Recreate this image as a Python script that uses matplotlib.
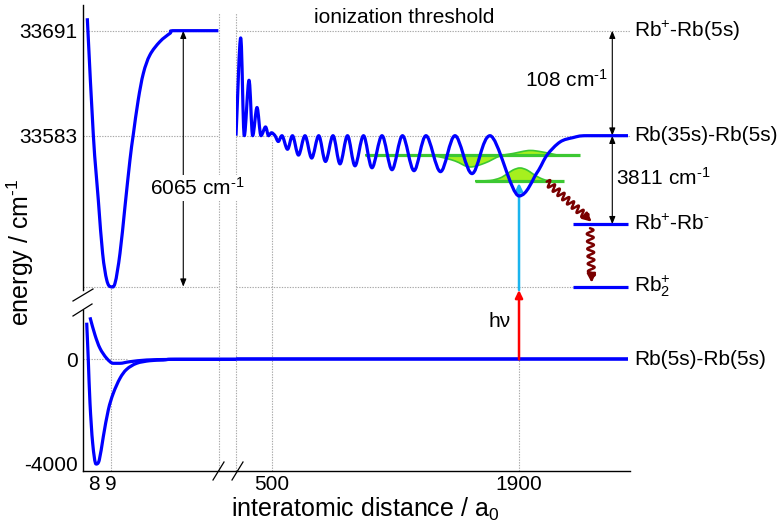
import numpy as np
import matplotlib
matplotlib.use("Agg")
import matplotlib.pyplot as plt
from matplotlib.path import Path
from matplotlib.patches import PathPatch, ConnectionPatch
from matplotlib.lines import Line2D
from matplotlib import transforms

plt.rcParams['font.family'] = ['Liberation Sans', 'DejaVu Sans']
plt.rcParams['mathtext.fontset'] = 'custom'
plt.rcParams['mathtext.rm'] = 'Liberation Sans'
plt.rcParams['mathtext.it'] = 'Liberation Sans:italic'
plt.rcParams['mathtext.bf'] = 'Liberation Sans:bold'

# ---------------- data ----------------
left_r_ticks = [8, 9]
right_r_ticks = [500, 1900]
top_E_ticks = [33583, 33691]
bottom_E_ticks = [-4000, 0]

E_ion = 33691.0        # Rb+ - Rb(5s)
E_ryd = 33583.0        # Rb(35s) - Rb(5s)
E_ionpair = 33491.9    # Rb+ - Rb-  (schematic position)
E_molion = 33427.7     # Rb2+       (schematic position)
E_ground = 0.0

# Rb2+ potential (upper left, schematic)
ion_r = [7.64, 7.99, 8.28, 8.53, 8.77, 9.00, 9.25, 9.54, 9.83, 10.12, 10.31,
         10.60, 10.90, 11.28, 11.86, 12.45, 12.74, 15.26]
ion_E = [33703.8, 33583.7, 33516.9, 33462.0, 33434.6, 33427.7, 33431.2, 33462.0,
         33510.0, 33558.0, 33583.7, 33619.7, 33647.2, 33666.0, 33679.7, 33688.3,
         33691.0, 33691.0]

# ground-state potentials (lower left)
sing_r = [7.605, 7.698, 7.797, 7.953, 8.145, 8.337, 8.570, 8.860, 9.151, 9.541,
          9.930, 10.51, 11.28, 12.06, 12.74, 16.285]
sing_E = [1408, -27, -1692, -3231, -4027, -3873, -2977, -1950, -1308, -731,
          -385, -154, -54, -27, 0, 0]
trip_r = [7.797, 8.087, 8.378, 8.767, 9.151, 9.541, 10.12, 11.09, 12.26, 13.03, 16.285]
trip_E = [1615, 935, 423, 38, -154, -154, -92, -27, -8, 0, 0]
ground_r = [297.9, 2517.0]

# Rydberg macrodimer potential (upper right)
ryd_r = [297.9, 324.5, 344.9, 371.5, 392.4, 416.8, 439.4, 464.9, 481.9, 498.9,
         518.7, 537.4, 558.3, 589.4, 617.7, 651.7, 688.5, 726.4, 766.1, 804.6,
         847.0, 886.7, 929.1, 971.6, 1019.7, 1067.8, 1124.4, 1181.0, 1240.5, 1305.6,
         1373.5, 1455.6, 1537.7, 1633.9, 1735.8, 1900.0, 2001.9, 2058.5, 2132.1,
         2205.7, 2284.9, 2517.0]
ryd_E = [33583, 33683.5, 33583, 33640, 33583, 33612, 33583, 33592, 33583, 33586,
         33583, 33577, 33583, 33569, 33583, 33563, 33583, 33560, 33583, 33556.5,
         33583, 33554, 33583, 33552, 33583, 33550, 33583, 33548, 33583, 33547,
         33583, 33546, 33583, 33544, 33583, 33521, 33545, 33563, 33576.5,
         33581, 33583, 33583]

# vibrational levels and wavefunctions
lev_hi_E = 33563.1
lev_hi_r = [1028.2, 2245.3]
wf_hi_r = [1028.2, 1226.3, 1379.2, 1452.8, 1537.7, 1622.6, 1707.5, 1792.4,
           1866.0, 1962.2, 2018.9, 2075.5, 2132.1, 2245.3]
wf_hi_E = [33563.1, 33563.1, 33562.6, 33561.1, 33557.0, 33550.8, 33554.9, 33562.1,
           33564.7, 33567.8, 33566.7, 33564.7, 33563.1, 33563.1]
lev_lo_E = 33536.4
lev_lo_r = [1651.0, 2154.7]
wf_lo_r = [1651.0, 1735.9, 1792.4, 1832.0, 1866.0, 1905.6, 1945.2, 1979.2,
           2018.9, 2064.2, 2154.7]
wf_lo_E = [33536.4, 33536.9, 33539.5, 33543.6, 33547.7, 33549.8, 33547.7,
           33543.6, 33539.5, 33536.9, 33536.4]

ion_levels_r = [2205.7, 2517.0]
r_exc = 1900.0
E_exc_top = 33534.3
arrow_6065_r = 13.22
arrow_108_r = 2428.1
decay1 = [(2056.8, 33535.7), (2311.5, 33494.5)]
decay2 = [(2301.9, 33487.8), (2311.5, 33431.8)]

INV_CM = r'cm$^{\text{-1}}$'

# ---------------- layout ----------------
W, H = 784, 525
def fx(px): return px / W
def fy(py): return 1 - py / H

fig = plt.figure(figsize=(W / 100, H / 100), dpi=100)
bl = fig.add_axes([fx(83), fy(471), fx(236) - fx(83), fy(310) - fy(471)])
br = fig.add_axes([fx(236), fy(471), fx(630) - fx(236), fy(310) - fy(471)])
tl = fig.add_axes([fx(83), fy(290), fx(219) - fx(83), fy(5) - fy(290)])
tr = fig.add_axes([fx(236), fy(290), fx(630) - fx(236), fy(5) - fy(290)])

BLUE = '#0000ff'
GRID = '#a8a8a8'
FS = 15

for ax in (bl, br, tl, tr):
    ax.set_facecolor('none')
    for s in ax.spines.values():
        s.set_visible(False)
    ax.tick_params(length=0, labelsize=FS, pad=4)
    ax.set_xticks([]); ax.set_yticks([])

for ax in (tl, bl):
    ax.spines['left'].set_visible(True)
    ax.spines['left'].set_linewidth(1.0)
for ax in (bl, br):
    ax.spines['bottom'].set_visible(True)
    ax.spines['bottom'].set_linewidth(1.0)

tl.set_yticks(top_E_ticks)
tl.set_yticklabels([str(v) for v in top_E_ticks])
bl.set_yticks(bottom_E_ticks)
bl.set_yticklabels([str(v) for v in bottom_E_ticks])
bl.set_xticks(left_r_ticks)
bl.set_xticklabels([str(v) for v in left_r_ticks])
br.set_xticks(right_r_ticks)
br.set_xticklabels([str(v) for v in right_r_ticks])
for ax in (bl, br):
    ax.tick_params(axis='x', pad=3)


def smooth_path(xs, ys, close=False):
    P = np.column_stack([xs, ys]).astype(float)
    n = len(P)
    T = np.zeros_like(P)
    T[0] = P[1] - P[0]
    T[-1] = P[-1] - P[-2]
    for i in range(1, n - 1):
        T[i] = (P[i + 1] - P[i - 1]) / 2
        if (P[i, 1] - P[i - 1, 1]) * (P[i + 1, 1] - P[i, 1]) <= 0:
            T[i, 1] = 0
    verts = [P[0]]
    codes = [Path.MOVETO]
    for i in range(n - 1):
        verts += [P[i] + T[i] / 3, P[i + 1] - T[i + 1] / 3, P[i + 1]]
        codes += [Path.CURVE4] * 3
    if close:
        verts += [P[0], P[0]]
        codes += [Path.LINETO, Path.CLOSEPOLY]
    return Path(verts, codes)


def smooth_line(ax, xs, ys, color, lw, z=5):
    ax.add_patch(PathPatch(smooth_path(xs, ys), facecolor='none', edgecolor=color,
                           lw=lw, zorder=z, capstyle='butt', joinstyle='round'))


def hgrid(ax, E, r0, r1):
    ax.plot([r0, r1], [E, E], color=GRID, lw=0.8, ls=(0, (1.2, 1.2)), zorder=1)


def vgrid(ax, r, py_top, py_bot):
    t = transforms.blended_transform_factory(ax.transData, fig.transFigure)
    fig.add_artist(Line2D([r, r], [fy(py_bot), fy(py_top)], transform=t, color=GRID,
                          lw=0.8, ls=(0, (1.2, 1.2)), zorder=-1))

# limits
tl.set_xlim(7.39, 15.297)
bl.set_xlim(7.39, 16.285)
tr.set_xlim(297.9, 2528.3)
br.set_xlim(297.9, 2528.3)
tl.set_ylim(33424.3, 33717.4)
tr.set_ylim(33424.3, 33717.4)
bl.set_ylim(-4296, 1896)
br.set_ylim(-4296, 1896)

# grid lines
for E in (E_ion, E_ryd, E_molion):
    hgrid(tl, E, 7.39, 15.297)
hgrid(tr, E_ion, 297.9, 2528.3)
hgrid(tr, E_ryd, 297.9, 2528.3)
hgrid(tr, E_molion, 297.9, ion_levels_r[0])
hgrid(bl, E_ground, 7.39, 10.0)
vgrid(bl, 9, 287, 471)
vgrid(tl, 15.297, 13, 471)
vgrid(tr, 297.9, 13, 471)
vgrid(br, 500, 140, 471)
vgrid(br, 1900, 359, 471)

# curves
smooth_line(tl, ion_r, ion_E, BLUE, 2.3)
smooth_line(bl, sing_r, sing_E, BLUE, 2.3)
smooth_line(bl, trip_r, trip_E, BLUE, 2.3)
br.plot(ground_r, [E_ground, E_ground], color=BLUE, lw=2.6, zorder=5, solid_capstyle='butt')
smooth_line(tr, ryd_r, ryd_E, BLUE, 2.3)
tr.plot(ion_levels_r, [E_ionpair] * 2, color=BLUE, lw=2.3, zorder=5, solid_capstyle='butt')
tr.plot(ion_levels_r, [E_molion] * 2, color=BLUE, lw=2.3, zorder=5, solid_capstyle='butt')

# vibrational wavefunctions
GREEN = '#3cc832'
LIME = '#a6f01e'
for (wr, wE, lr, lE) in ((wf_hi_r, wf_hi_E, lev_hi_r, lev_hi_E),
                         (wf_lo_r, wf_lo_E, lev_lo_r, lev_lo_E)):
    tr.add_patch(PathPatch(smooth_path(wr, wE, close=True), facecolor=LIME,
                           edgecolor=GREEN, lw=1.2, zorder=2))
    tr.plot(lr, [lE, lE], color=GREEN, lw=2.3, zorder=2.5, solid_capstyle='butt')

# excitation arrows
tr.annotate('', xy=(r_exc, E_exc_top), xytext=(r_exc, 33424.3),
            arrowprops=dict(arrowstyle='-|>,head_length=0.45,head_width=0.22',
                            color='#1ab4ee', lw=1.8, shrinkA=0, shrinkB=0), zorder=3)
con = ConnectionPatch(xyA=(r_exc, E_ground), coordsA=br.transData,
                      xyB=(r_exc, 33424.3), coordsB=tr.transData,
                      arrowstyle='-|>,head_length=0.45,head_width=0.22',
                      color='#ff0000', lw=1.8, shrinkA=0, shrinkB=0, zorder=3)
fig.add_artist(con)
br.text(1792.4, 1434.6, 'hν', fontsize=FS, ha='center', va='center')

# energy difference arrows
AP = dict(arrowstyle='<|-|>,head_length=0.45,head_width=0.18', color='black', lw=0.8,
          shrinkA=0, shrinkB=0)
tl.annotate('', xy=(arrow_6065_r, E_ion), xytext=(arrow_6065_r, E_molion), arrowprops=AP)
tr.annotate('', xy=(arrow_108_r, E_ion), xytext=(arrow_108_r, E_ryd), arrowprops=AP)
tr.annotate('', xy=(arrow_108_r, E_ryd), xytext=(arrow_108_r, E_ionpair), arrowprops=AP)

fig.text(14.02, 33529.2, '6065 ' + INV_CM, transform=tl.transData, fontsize=FS,
         ha='center', va='center', zorder=6,
         bbox=dict(facecolor='white', edgecolor='none', pad=1.5))
fig.text(2166, 33640.3, '108 ' + INV_CM, transform=tr.transData, fontsize=FS,
         ha='center', va='center')
fig.text(2715, 33539.5, '3811 ' + INV_CM, transform=tr.transData, fontsize=FS,
         ha='center', va='center')
fig.text(1249, 33704.1, 'ionization threshold', transform=tr.transData, fontsize=FS,
         ha='center', va='center')

# state labels
LX = 2551
fig.text(LX, E_ion, 'Rb$^{+}$-Rb(5s)', transform=tr.transData, fontsize=FS, va='center')
fig.text(LX, E_ryd, 'Rb(35s)-Rb(5s)', transform=tr.transData, fontsize=FS, va='center')
fig.text(LX, E_ionpair, r'Rb$^{+}$-Rb$^{\text{-}}$', transform=tr.transData, fontsize=FS,
         va='center')
fig.text(LX, E_molion, 'Rb$_{2}^{+}$', transform=tr.transData, fontsize=FS, va='center')
fig.text(LX, E_ground, 'Rb(5s)-Rb(5s)', transform=br.transData, fontsize=FS, va='center')


# wavy decay arrows (decoration)
def squiggle(ax, p0, p1, n_waves, amp, color='#7a0000', lw=1.8):
    a = ax.transData.transform(p0)
    b = ax.transData.transform(p1)
    d = b - a
    L = np.hypot(*d)
    u = d / L
    nrm = np.array([-u[1], u[0]])
    head = 6.0
    t = np.linspace(0, 1, 300)
    pts = a + np.outer(t * (L - head), u) + np.outer(amp * np.sin(2 * np.pi * n_waves * t), nrm)
    dat = ax.transData.inverted().transform(pts)
    ax.plot(dat[:, 0], dat[:, 1], color=color, lw=lw, zorder=6, solid_capstyle='round')
    s = ax.transData.inverted().transform(a + u * (L - head - 1))
    ax.annotate('', xy=p1, xytext=tuple(s),
                arrowprops=dict(arrowstyle='-|>,head_length=0.5,head_width=0.25',
                                color=color, lw=lw, shrinkA=0, shrinkB=0), zorder=6)

squiggle(tr, decay1[0], decay1[1], 8.5, 3.4)
squiggle(tr, decay2[0], decay2[1], 6.5, 3.4)

# axis labels
fig.text(fx(20), fy(252), 'energy / ' + INV_CM, rotation=90, fontsize=18,
         ha='center', va='center')
fig.text(fx(365), fy(509), 'interatomic distance / a$_{0}$', fontsize=18,
         ha='center', va='center')

# axis-break marks
for (x0, y0, x1, y1) in ((73, 301, 93, 289), (73, 316, 92, 304),
                         (213, 480, 224, 462), (232, 480, 243, 462)):
    fig.add_artist(Line2D([fx(x0), fx(x1)], [fy(y0), fy(y1)], color='black', lw=0.9))

fig.savefig('out.png', dpi=100)
